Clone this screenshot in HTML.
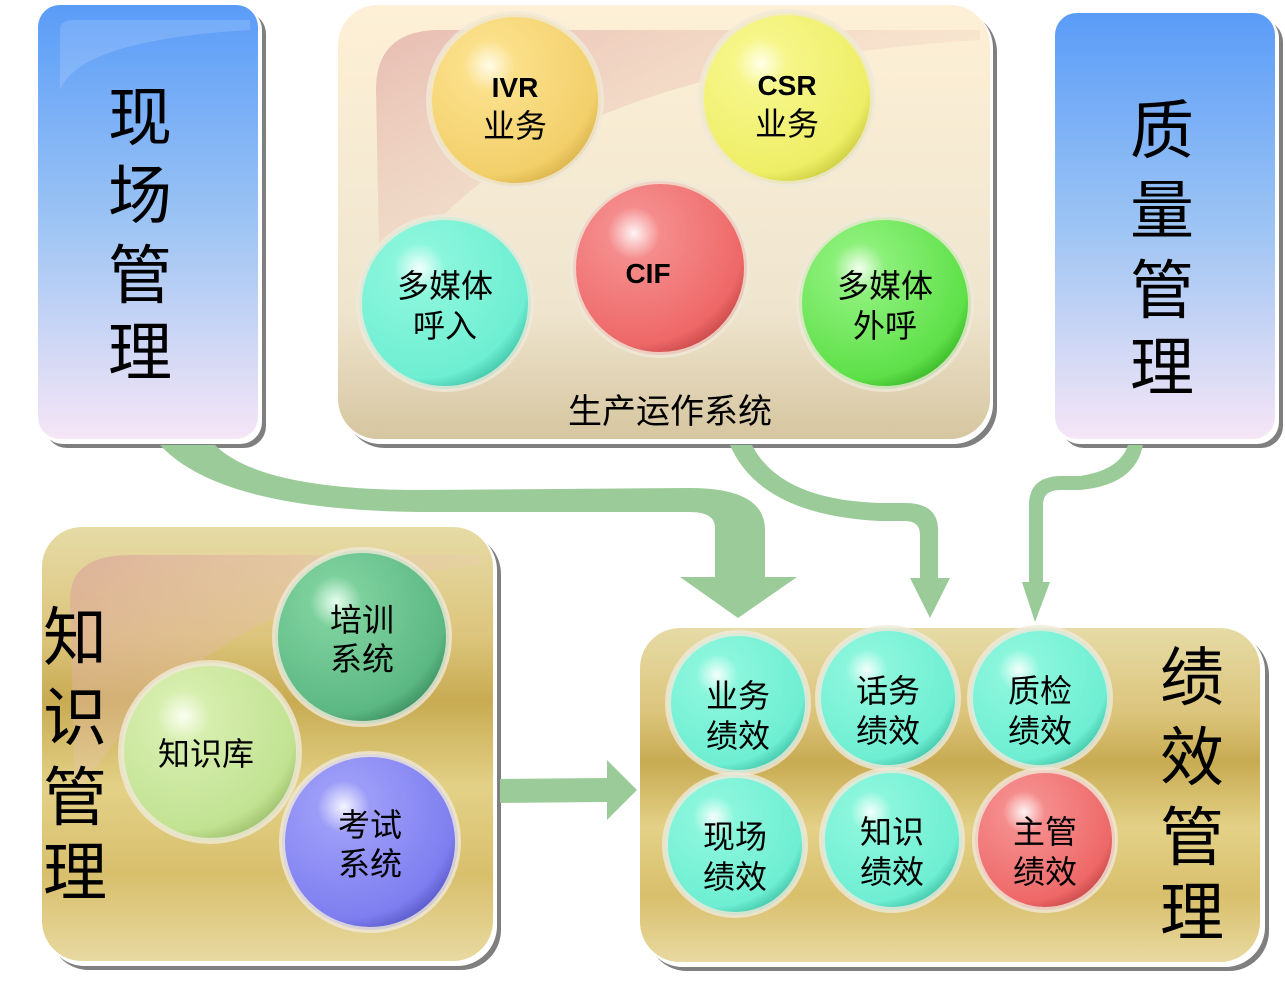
<!DOCTYPE html>
<html><head><meta charset="utf-8"><style>
html,body{margin:0;padding:0;background:#fff;width:1285px;height:989px;overflow:hidden}
text{font-family:"Liberation Sans","Noto Sans CJK SC",sans-serif;fill:#000}
</style></head><body>
<svg width="1285" height="989" viewBox="0 0 1285 989" xmlns="http://www.w3.org/2000/svg">
<defs>
<linearGradient id="blue" x1="0" y1="0" x2="0" y2="1">
<stop offset="0" stop-color="#5a9cf8"/><stop offset="0.5" stop-color="#9cc4f4"/><stop offset="1" stop-color="#f6e6f6"/></linearGradient>
<linearGradient id="beige" x1="0" y1="0" x2="0" y2="1">
<stop offset="0" stop-color="#fdf0d6"/><stop offset="0.7" stop-color="#efe5cf"/><stop offset="1" stop-color="#d6c6a0"/></linearGradient>
<linearGradient id="gold" x1="0" y1="0" x2="0" y2="1">
<stop offset="0" stop-color="#e6dba6"/><stop offset="0.25" stop-color="#dcc57c"/><stop offset="0.4" stop-color="#c8ab52"/><stop offset="0.6" stop-color="#e3d187"/><stop offset="0.8" stop-color="#d8bf6c"/><stop offset="1" stop-color="#e8d9a0"/></linearGradient>
<linearGradient id="pinkish" x1="0" y1="0" x2="1" y2="1">
<stop offset="0" stop-color="#d99a9a" stop-opacity="0.6"/><stop offset="0.6" stop-color="#f0d0c0" stop-opacity="0.2"/><stop offset="1" stop-color="#fff" stop-opacity="0"/></linearGradient>
<radialGradient id="g-or" cx="0.35" cy="0.3" r="0.75"><stop offset="0" stop-color="#fffbe8"/><stop offset="0.2" stop-color="#fbe08a"/><stop offset="0.85" stop-color="#f2cf6a"/><stop offset="1" stop-color="#d9b24a"/></radialGradient>
<radialGradient id="g-ye" cx="0.35" cy="0.3" r="0.75"><stop offset="0" stop-color="#ffffe8"/><stop offset="0.2" stop-color="#f6f68a"/><stop offset="0.85" stop-color="#eeee66"/><stop offset="1" stop-color="#cccc40"/></radialGradient>
<radialGradient id="g-re" cx="0.35" cy="0.3" r="0.75"><stop offset="0" stop-color="#fff4f4"/><stop offset="0.2" stop-color="#f58c8c"/><stop offset="0.85" stop-color="#ee6868"/><stop offset="1" stop-color="#c84848"/></radialGradient>
<radialGradient id="g-cy" cx="0.35" cy="0.3" r="0.75"><stop offset="0" stop-color="#f4fffc"/><stop offset="0.2" stop-color="#8af6dc"/><stop offset="0.85" stop-color="#6eeed2"/><stop offset="1" stop-color="#40c4a8"/></radialGradient>
<radialGradient id="g-gr" cx="0.35" cy="0.3" r="0.75"><stop offset="0" stop-color="#f4fff0"/><stop offset="0.2" stop-color="#8cf07a"/><stop offset="0.85" stop-color="#5ee048"/><stop offset="1" stop-color="#38b828"/></radialGradient>
<radialGradient id="g-dg" cx="0.35" cy="0.3" r="0.75"><stop offset="0" stop-color="#e8fff0"/><stop offset="0.2" stop-color="#7cd09c"/><stop offset="0.85" stop-color="#5cb882"/><stop offset="1" stop-color="#3c9060"/></radialGradient>
<radialGradient id="g-lg" cx="0.35" cy="0.3" r="0.75"><stop offset="0" stop-color="#fbfff0"/><stop offset="0.2" stop-color="#d6eeae"/><stop offset="0.85" stop-color="#c2e292"/><stop offset="1" stop-color="#9cc06c"/></radialGradient>
<radialGradient id="g-pu" cx="0.35" cy="0.3" r="0.75"><stop offset="0" stop-color="#f4f4ff"/><stop offset="0.2" stop-color="#9c9cf8"/><stop offset="0.85" stop-color="#7e7ef0"/><stop offset="1" stop-color="#5858c8"/></radialGradient>
</defs>

<!-- shadows -->
<g fill="#7f7f7f">
<rect x="45" y="12" width="221" height="436" rx="22"/>
<rect x="1062" y="20" width="221" height="428" rx="22"/>
<rect x="345" y="12" width="652" height="436" rx="40"/>
<rect x="49" y="534" width="452" height="436" rx="40"/>
<rect x="647" y="635" width="622" height="336" rx="40"/>
</g>
<g fill="#fff">
<rect x="41" y="8" width="221" height="436" rx="22"/>
<rect x="1058" y="16" width="221" height="428" rx="22"/>
<rect x="341" y="8" width="652" height="436" rx="40"/>
<rect x="45" y="530" width="452" height="436" rx="40"/>
<rect x="643" y="631" width="622" height="336" rx="40"/>
</g>

<!-- panels -->
<rect x="38" y="5" width="220" height="434" rx="22" fill="url(#blue)"/>
<path d="M60 30 Q60 20 75 20 L250 20 L250 30 Q80 40 60 90 Z" fill="#fff" opacity="0.15"/>
<rect x="1055" y="13" width="220" height="426" rx="22" fill="url(#blue)"/>
<rect x="338" y="5" width="652" height="434" rx="40" fill="url(#beige)"/>
<path d="M376 90 Q376 30 440 30 L980 30 L980 40 Q500 70 380 300 Z" fill="url(#pinkish)"/>
<rect x="42" y="527" width="451" height="434" rx="40" fill="url(#gold)"/>
<path d="M70 600 Q70 555 130 555 L480 555 L480 565 Q200 590 75 800 Z" fill="url(#pinkish)"/>
<rect x="640" y="628" width="620" height="334" rx="40" fill="url(#gold)"/>

<!-- vertical titles -->
<g font-size="64" text-anchor="middle">
<text x="140" y="140">现</text><text x="140" y="218">场</text><text x="140" y="298">管</text><text x="140" y="375">理</text>
<text x="1162" y="153">质</text><text x="1162" y="233">量</text><text x="1162" y="313">管</text><text x="1162" y="390">理</text>
<text x="75" y="660">知</text><text x="75" y="740">识</text><text x="75" y="820">管</text><text x="75" y="895">理</text>
<text x="1192" y="700">绩</text><text x="1192" y="780">效</text><text x="1192" y="860">管</text><text x="1192" y="935">理</text>
</g>
<text x="670" y="423" font-size="34" text-anchor="middle">生产运作系统</text>

<!-- arrows -->
<g fill="#9acb98">
<path d="M160 445 L215 445 Q260 490 420 490 L690 488 Q765 488 765 530 L765 577 L797 577 L738 618 L680 577 L715 577 L715 528 Q715 512 690 512 L420 512 Q220 510 160 445 Z"/>
<path d="M730 445 L752 445 Q780 500 880 503 L905 503 Q938 503 938 530 L938 578 L950 578 L930 618 L910 578 L920 578 L920 535 Q920 521 905 521 L880 521 Q760 515 730 445 Z"/>
<path d="M1128 445 L1143 445 Q1135 485 1080 490 L1060 490 Q1043 490 1043 505 L1043 582 L1050 582 L1035 622 L1022 582 L1029 582 L1029 505 Q1029 477 1060 476 L1080 476 Q1120 470 1128 445 Z"/>
<path d="M500 779 L607 778 L607 760 L637 790 L607 820 L607 802 L500 803 Z"/>
</g>

<!-- spheres -->
<g stroke="#f0e8d8" stroke-opacity="0.8" stroke-width="6">
<circle cx="515" cy="100" r="86" fill="url(#g-or)"/>
<circle cx="787" cy="98" r="86" fill="url(#g-ye)"/>
<circle cx="660" cy="268" r="87" fill="url(#g-re)"/>
<circle cx="445" cy="303" r="86" fill="url(#g-cy)"/>
<circle cx="885" cy="303" r="86" fill="url(#g-gr)"/>
<circle cx="362" cy="637" r="87" fill="url(#g-dg)"/>
<circle cx="210" cy="752" r="89" fill="url(#g-lg)"/>
<circle cx="370" cy="842" r="88" fill="url(#g-pu)"/>
<circle cx="738" cy="703" r="70" fill="url(#g-cy)"/>
<circle cx="888" cy="698" r="70" fill="url(#g-cy)"/>
<circle cx="1040" cy="698" r="70" fill="url(#g-cy)"/>
<circle cx="735" cy="845" r="70" fill="url(#g-cy)"/>
<circle cx="892" cy="840" r="70" fill="url(#g-cy)"/>
<circle cx="1045" cy="840" r="70" fill="url(#g-re)"/>
</g>

<g text-anchor="middle" font-size="32">
<text x="515" y="97" font-weight="bold" font-size="28">IVR</text><text x="515" y="137">业务</text>
<text x="787" y="95" font-weight="bold" font-size="28">CSR</text><text x="787" y="135">业务</text>
<text x="648" y="283" font-weight="bold" font-size="28">CIF</text>
<text x="445" y="297">多媒体</text><text x="445" y="337">呼入</text>
<text x="885" y="297">多媒体</text><text x="885" y="337">外呼</text>
<text x="362" y="631">培训</text><text x="362" y="670">系统</text>
<text x="206" y="765">知识库</text>
<text x="370" y="836">考试</text><text x="370" y="875">系统</text>
<text x="738" y="707">业务</text><text x="738" y="747">绩效</text>
<text x="888" y="702">话务</text><text x="888" y="742">绩效</text>
<text x="1040" y="702">质检</text><text x="1040" y="742">绩效</text>
<text x="735" y="848">现场</text><text x="735" y="888">绩效</text>
<text x="892" y="843">知识</text><text x="892" y="883">绩效</text>
<text x="1045" y="843">主管</text><text x="1045" y="883">绩效</text>
</g>
</svg>
</body></html>
